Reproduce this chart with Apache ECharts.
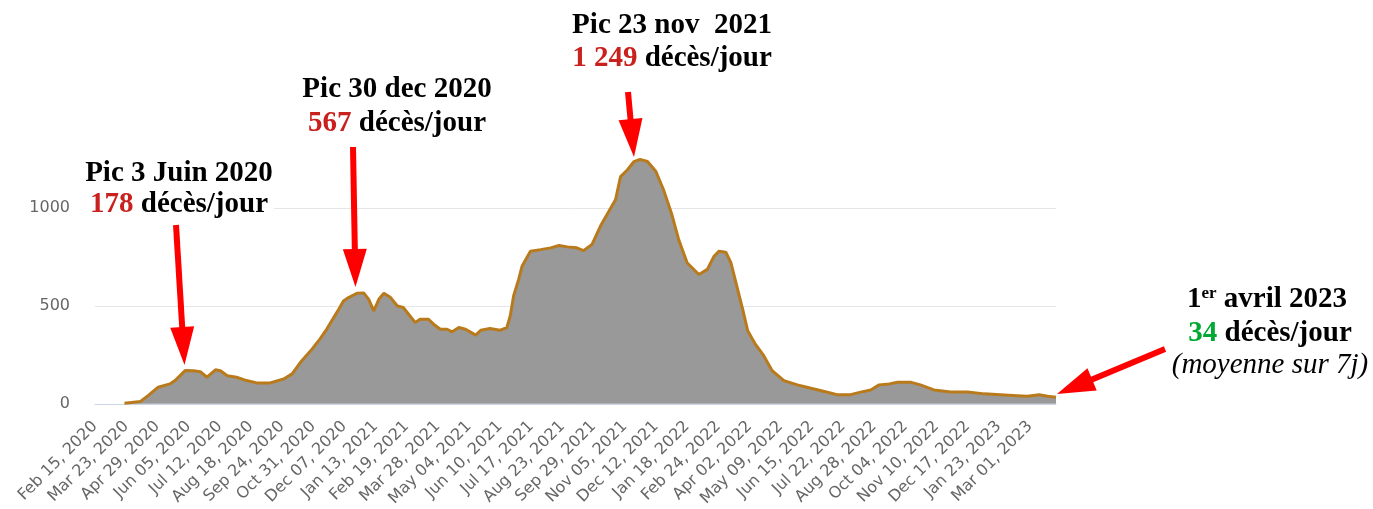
<!DOCTYPE html>
<html>
<head>
<meta charset="utf-8">
<script src="https://cdn.jsdelivr.net/npm/echarts@6/dist/echarts.min.js"></script>
<style>
  html, body { margin: 0; padding: 0; background: #fff; }
  #chart { width: 1373px; height: 509px; }
</style>
</head>
<body>
<div id="chart"></div>
<script>
// one tick label every 37 days, starting Feb 15, 2020 (day 0)
const tickLabels = ['Feb 15, 2020', 'Mar 23, 2020', 'Apr 29, 2020', 'Jun 05, 2020', 'Jul 12, 2020',
    'Aug 18, 2020', 'Sep 24, 2020', 'Oct 31, 2020', 'Dec 07, 2020', 'Jan 13, 2021', 'Feb 19, 2021',
    'Mar 28, 2021', 'May 04, 2021', 'Jun 10, 2021', 'Jul 17, 2021', 'Aug 23, 2021', 'Sep 29, 2021',
    'Nov 05, 2021', 'Dec 12, 2021', 'Jan 18, 2022', 'Feb 24, 2022', 'Apr 02, 2022', 'May 09, 2022',
    'Jun 15, 2022', 'Jul 22, 2022', 'Aug 28, 2022', 'Oct 04, 2022', 'Nov 10, 2022', 'Dec 17, 2022',
    'Jan 23, 2023', 'Mar 01, 2023'];
const tickStep = 37;
const lastDay = 1141;

// days since Feb 15, 2020 and 7-day average of daily deaths
const days = [35, 54, 63, 75, 89, 95, 101, 107, 109, 117, 125, 133, 143, 149, 157, 168, 180, 192, 208, 224,
    234, 244, 256, 267, 275, 287, 295, 301, 311, 319, 325, 331, 337, 343, 351, 359, 366, 374, 380, 386,
    396, 402, 410, 418, 424, 432, 440, 452, 458, 469, 481, 489, 493, 497, 503, 507, 517, 529, 541, 551,
    561, 572, 580, 590, 600, 610, 618, 624, 632, 640, 647, 656, 666, 675, 685, 693, 703, 717, 727, 735,
    741, 749, 755, 763, 769, 775, 784, 794, 804, 818, 834, 850, 866, 881, 897, 909, 921, 931, 943, 953,
    969, 980, 996, 1016, 1036, 1056, 1075, 1095, 1107, 1121, 1131, 1141];
const avg7 = [3, 12, 42, 85, 102, 119, 144, 170, 178, 169, 164, 136, 174, 169, 144, 136, 119, 107, 107, 127,
    153, 212, 271, 331, 381, 466, 525, 543, 565, 567, 534, 475, 534, 565, 543, 500, 492, 449, 416, 432,
    432, 407, 381, 381, 368, 390, 381, 351, 376, 385, 376, 390, 449, 551, 636, 703, 780, 788, 797, 809,
    802, 797, 783, 814, 907, 983, 1043, 1161, 1195, 1238, 1249, 1238, 1187, 1094, 966, 839, 721, 661, 687, 754,
    780, 775, 721, 585, 483, 373, 305, 246, 169, 119, 97, 80, 63, 47, 47, 60, 71, 97, 102, 110,
    110, 97, 71, 60, 60, 51, 47, 42, 39, 47, 39, 34];

const RED = '#c9211e';
const GREEN = '#00a933';
const serif = '"Liberation Serif", "DejaVu Serif", serif';

// zrender rich text uses fill, not color
const bold = { fontFamily: serif, fontSize: 29, fontWeight: 'bold', fill: '#000' };
const richStyles = {
    b: bold,
    r: { ...bold, fill: RED },
    g: { ...bold, fill: GREEN },
    sup: { ...bold, fontSize: 17, verticalAlign: 'top' },
    i: { fontFamily: serif, fontSize: 29, fontStyle: 'italic', fill: '#000' }
};

const label = (x, y, text, extra) => ({
    type: 'text', x: x, y: y, silent: true, z: 10,
    style: Object.assign({ text: text, rich: richStyles, align: 'center', verticalAlign: 'middle',
        fontFamily: serif, fontSize: 29 }, extra || {})
});

const arrow = (x1, y1, x2, y2) => {
    const len = Math.hypot(x2 - x1, y2 - y1);
    const ux = (x2 - x1) / len, uy = (y2 - y1) / len;
    const hl = 38, hw = 12;
    const bx = x2 - ux * hl, by = y2 - uy * hl;
    return [
        { type: 'line', silent: true, z: 10, shape: { x1: x1, y1: y1, x2: bx + ux * 2, y2: by + uy * 2 },
          style: { stroke: '#ff0000', lineWidth: 6 } },
        { type: 'polygon', silent: true, z: 10,
          shape: { points: [[x2, y2], [bx - uy * hw, by + ux * hw], [bx + uy * hw, by - ux * hw]] },
          style: { fill: '#ff0000' } }
    ];
};

const chart = echarts.init(document.getElementById('chart'));
chart.setOption({
    animation: false,
    backgroundColor: '#fff',
    grid: { left: 95, right: 317, top: 149.4, bottom: 104 },
    xAxis: {
        type: 'value',
        min: 0,
        max: lastDay,
        interval: tickStep,
        axisLine: { show: true, lineStyle: { color: '#ccd6eb', width: 1 } },
        axisTick: { show: false },
        splitLine: { show: false },
        axisLabel: {
            rotate: 45,
            margin: 20,
            color: '#666',
            fontFamily: '"DejaVu Sans", Verdana, sans-serif',
            fontSize: 16,
            showMaxLabel: false,
            formatter: v => (v % tickStep === 0 ? (tickLabels[v / tickStep] || '') : '')
        }
    },
    yAxis: {
        type: 'value',
        min: 0,
        max: 1300,
        interval: 500,
        axisLine: { show: false },
        axisTick: { show: false },
        splitLine: { show: true, showMaxLine: false, lineStyle: { color: '#e6e6e6', width: 1 } },
        axisLabel: {
            margin: 25,
            color: '#666',
            fontFamily: '"DejaVu Sans", Verdana, sans-serif',
            fontSize: 16,
            showMaxLabel: false,
            formatter: v => String(v)
        }
    },
    series: [{
        type: 'line',
        data: days.map((d, k) => [d, avg7[k]]),
        symbol: 'none',
        lineStyle: { color: '#b97a1c', width: 3 },
        areaStyle: { color: '#999999', opacity: 1 },
        z: 2
    }],
    graphic: [
        label(179, 174, '{b|Pic 3 Juin 2020}'),
        label(179, 205, '{r|178} {b|décès/jour}', { backgroundColor: '#fff', padding: [0, 6, 0, 6] }),
        label(397, 90, '{b|Pic 30 dec 2020}'),
        label(397, 124, '{r|567} {b|décès/jour}'),
        label(672, 26, '{b|Pic 23 nov  2021}'),
        label(672, 59, '{r|1 249} {b|décès/jour}'),
        label(1267, 300, '{b|1}{sup|er}{b| avril 2023}'),
        label(1270, 334, '{g|34} {b|décès/jour}'),
        label(1270, 365, '{i|(moyenne sur 7j)}'),
        ...arrow(176, 225, 184.5, 365),
        ...arrow(353, 147, 355.5, 287),
        ...arrow(628, 92, 634, 157),
        ...arrow(1165, 349, 1057, 394)
    ]
});
</script>
</body>
</html>
